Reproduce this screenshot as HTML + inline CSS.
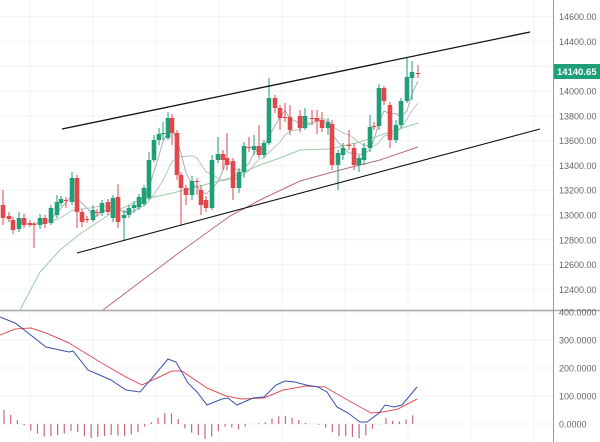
<!DOCTYPE html>
<html><head><meta charset="utf-8"><style>
html,body{margin:0;padding:0;background:#fff;}
svg{display:block;font-family:"Liberation Sans",sans-serif;}
</style></head><body>
<svg id="c" width="600" height="442" viewBox="0 0 600 442" xmlns="http://www.w3.org/2000/svg">
<rect width="600" height="442" fill="#fff"/>
<g id="grid" stroke="#f0f3f5" stroke-width="1"></g>
<g id="ma"></g>
<g id="cd"></g>
<line x1="62" y1="129" x2="530" y2="32" stroke="#111" stroke-width="1.3"/>
<line x1="77" y1="253" x2="540" y2="129" stroke="#111" stroke-width="1.1"/>
<g id="macd"></g>
<line x1="0" y1="310.5" x2="600" y2="310.5" stroke="#aaa" stroke-width="1.5"/>
<line x1="553.5" y1="0" x2="553.5" y2="442" stroke="#999" stroke-width="1"/>
<g id="ax" font-size="9" fill="#666"></g>
<rect x="554" y="64" width="46" height="15" fill="#1e9f78"/>
<text x="557" y="75" font-size="9.5" fill="#fff" font-weight="bold">14140.65</text>
</svg>
<script>
const NS="http://www.w3.org/2000/svg";
function el(p,t,a){const e=document.createElementNS(NS,t);for(const k in a)e.setAttribute(k,a[k]);p.appendChild(e);return e;}
const G=document.getElementById('grid'),A=document.getElementById('ax');
for(let x=30;x<553;x+=63)el(G,'line',{x1:x,y1:0,x2:x,y2:442});
const py=p=>91+(14000-p)*0.124;
for(let p=12400;p<=14600;p+=200){const y=py(p);el(G,'line',{x1:0,y1:y,x2:553,y2:y});
 if(p!==14200){const t=el(A,'text',{x:559,y:y+3.5});t.textContent=p.toFixed(2);}}
[[400,312],[300,340],[200,368],[100,396],[0,424]].forEach(([v,y])=>{el(G,'line',{x1:0,y1:y,x2:553,y2:y});
 const t=el(A,'text',{x:559,y:y+3.5});t.textContent=v.toFixed(4);});
const C=[[3,205,218,190,225],[9,216,219,212,222],[13,220,230,217,234],[19,229,218,212,232],[24,218,225,214,228],[30,223,225,220,227],[34,224,225,222,248],[40,225,218,214,229],[45,218,224,215,228],[51,223,208,205,225],[57,215,202,195,218],[61,203,199,196,206],[66,200,201,197,208],[72,202,178,172,205],[77,178,212,175,228],[82,212,222,209,227],[87,219,220,216,223],[93,220,210,205,222],[97,212,213,209,216],[102,213,203,200,216],[108,202,212,199,215],[113,218,198,195,222],[118,197,222,184,228],[124,218,215,210,240],[129,215,208,205,218],[134,208,205,201,211],[139,207,197,194,210],[144,204,188,185,206],[149,198,160,152,200],[154,160,140,135,162],[159,140,134,128,145],[163,134,133,122,140],[168,138,118,112,140],[172,118,133,114,145],[177,133,175,130,180],[181,175,188,172,225],[186,188,195,185,205],[192,195,181,176,200],[197,181,182,178,195],[201,190,205,185,215],[206,200,208,196,212],[212,208,160,155,210],[218,160,154,137,163],[223,154,160,150,170],[227,158,165,133,170],[233,161,188,158,200],[239,188,172,168,193],[244,172,146,142,178],[249,147,148,137,152],[254,150,146,135,155],[259,146,155,125,158],[264,155,143,140,158],[269,143,98,78,145],[275,98,108,95,113],[280,108,118,105,130],[285,117,118,103,122],[290,117,130,105,135],[300,116,128,110,132],[305,128,116,108,130],[312,118,119,110,125],[317,118,121,110,134],[322,120,128,112,132],[328,128,122,118,135],[332,124,165,120,170],[338,165,153,150,190],[343,155,148,143,160],[349,145,146,130,150],[354,148,165,143,170],[359,165,158,155,172],[364,160,148,143,165],[370,148,127,115,152],[374,126,127,122,130],[379,126,88,84,130],[384,88,101,86,105],[390,105,140,102,148],[396,140,125,120,143],[401,125,101,98,128],[407,101,77,58,103],[412,78,72,61,100],[418,73,74,65,78]];
const CD=document.getElementById('cd');
C.forEach(([x,o,c,h,l])=>{const col=c>o?'#e2474b':'#1f9e78';
 el(CD,'line',{x1:x,y1:h,x2:x,y2:l,stroke:col,'stroke-width':1});
 const t=Math.min(o,c),b=Math.max(o,c);el(CD,'rect',{x:x-2.3,y:t,width:4.6,height:Math.max(1,b-t),fill:col});});
const M=document.getElementById('ma');
function sma(n){const pts=[];for(let i=n-1;i<C.length;i++){let s=0;for(let j=0;j<n;j++)s+=C[i-j][2];pts.push(C[i][0]+','+(s/n).toFixed(1));}return pts.join(' ');}
el(M,'polyline',{points:sma(4),fill:'none',stroke:'#a8b0b2','stroke-width':1});
el(M,'polyline',{points:sma(10),fill:'none',stroke:'#b4c8bc','stroke-width':1});
el(M,'polyline',{points:'20,310 40,272 60,250 80,234 110,214 140,200 173,193 200,186 230,178 260,165 280,158 300,150 330,149 360,142 390,132 418,123',fill:'none',stroke:'#9ccba6','stroke-width':1});
el(M,'polyline',{points:'103,310 140,282 180,252 230,216 260,200 300,181 340,170 380,160 418,147',fill:'none',stroke:'#b86a88','stroke-width':1});
const MC=document.getElementById('macd');
const B=[[0,317],[15,323],[23,329],[46,347],[69,352],[73,351],[88,370],[111,380],[126,390],[140,392],[153,377],[168,359],[176,362],[188,383],[197,392],[207,405],[222,399],[228,398],[237,405],[253,398],[264,397],[276,385],[285,381],[295,382],[306,385],[318,387],[327,392],[337,407],[348,413],[360,422],[367,422],[379,413],[385,405],[394,407],[402,405],[417,387]];
const R=[[0,335],[15,329],[31,328],[46,333],[69,343],[77,348],[100,362],[126,377],[142,385],[157,378],[172,371],[182,371],[207,388],[226,396],[241,399],[264,398],[283,390],[306,386],[325,387],[344,398],[371,413],[383,412],[398,409],[417,399]];
function interp(a,x){for(let i=1;i<a.length;i++)if(x<=a[i][0]){const [x0,y0]=a[i-1],[x1,y1]=a[i];return y0+(y1-y0)*(x-x0)/(x1-x0);}return a[a.length-1][1];}
for(let x=4;x<=418;x+=6.7){const h=(interp(R,x)-interp(B,x))*0.95;el(MC,'line',{x1:x,y1:424,x2:x,y2:424-h,stroke:'#c86878','stroke-width':1.2});}
el(MC,'polyline',{points:R.map(p=>p.join(',')).join(' '),fill:'none',stroke:'#e2505a','stroke-width':1});
el(MC,'polyline',{points:B.map(p=>p.join(',')).join(' '),fill:'none',stroke:'#3a4fb0','stroke-width':1});
</script>
</body></html>
